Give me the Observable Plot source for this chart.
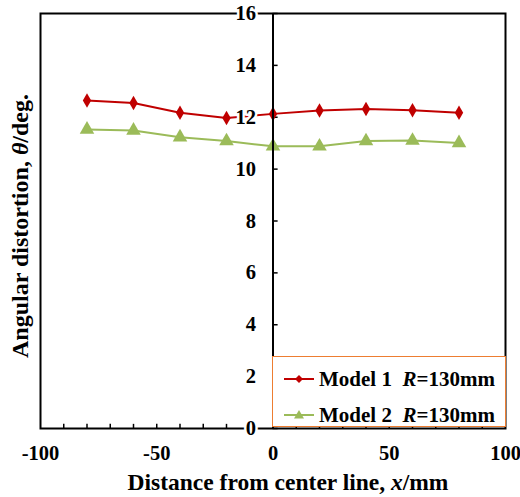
<!DOCTYPE html>
<html><head><meta charset="utf-8">
<script src="https://cdn.jsdelivr.net/npm/d3@7"></script>
<script src="https://cdn.jsdelivr.net/npm/@observablehq/plot@0.6"></script>
<style>
body{margin:0;background:#fff;}
#wrap{position:relative;width:520px;height:497px;font-family:"Liberation Serif","Times New Roman",serif;font-weight:bold;}
#wrap svg{display:block;}
#legend{position:absolute;left:272px;top:356px;width:234px;height:71px;box-sizing:border-box;border:1.5px solid #ED7D31;background:#fff;}
.lrow{position:absolute;left:11px;height:24px;display:flex;align-items:center;font-size:21px;white-space:pre;color:#000;}
.lrow svg{margin-right:5px;}
</style></head><body><div id="wrap"></div>
<script>
// ---- data ----
const xPositions = [-80, -60, -40, -20, 0, 20, 40, 60, 80];
const model1 = [12.65, 12.55, 12.17, 11.97, 12.13, 12.26, 12.32, 12.27, 12.17];
const model2 = [11.53, 11.49, 11.23, 11.08, 10.88, 10.88, 11.08, 11.10, 11.01];
const seriesNames = ["Model 1", "Model 2"];
const radiusLabel = "130mm";
const seriesColors = ["#C00000", "#9BBB59"];
const seriesSymbols = ["diamond", "triangle"];
const xTickLabels = [-100, -50, 0, 50, 100];
const xMinorTicks = [-90, -80, -70, -60, -50, -40, -30, -20, -10, 10, 20, 30, 40, 50, 60, 70, 80, 90];
const yTickLabels = [0, 2, 4, 6, 8, 10, 12, 14, 16];
const xTitle = "Distance from center line, x/mm";
const yTitle = "Angular distortion, θ/deg.";

const rows = [];
xPositions.forEach((x, i) => rows.push({series: seriesNames[0], x, y: model1[i]}));
xPositions.forEach((x, i) => rows.push({series: seriesNames[1], x, y: model2[i]}));

const font = {fontFamily: "Liberation Serif", fontWeight: "bold"};

const chart = Plot.plot({
  width: 520, height: 497,
  marginLeft: 40, marginRight: 15, marginTop: 13, marginBottom: 69,
  style: {fontFamily: "Liberation Serif", background: "#fff"},
  x: {domain: [-100, 100], axis: null},
  y: {domain: [0, 16], axis: null},
  marks: [
    Plot.ruleX(xMinorTicks, {x: d => d, y1: 0, y2: 0.16, stroke: "black", strokeWidth: 1.5}),
    Plot.ruleY(yTickLabels, {y: d => d, x1: 0, x2: 2.2, stroke: "black", strokeWidth: 1.5}),
    Plot.line(rows.filter(d => d.series === seriesNames[1]), {x: "x", y: "y", stroke: seriesColors[1], strokeWidth: 2}),
    Plot.dot(rows.filter(d => d.series === seriesNames[1]), {x: "x", y: "y", symbol: "triangle", r: 5.4, fill: seriesColors[1], stroke: null}),
    Plot.line(rows.filter(d => d.series === seriesNames[0]), {x: "x", y: "y", stroke: seriesColors[0], strokeWidth: 2}),
    Plot.dot(rows.filter(d => d.series === seriesNames[0]), {x: "x", y: "y", symbol: "diamond", r: 4.4, fill: seriesColors[0], stroke: null}),
    Plot.ruleX([0], {stroke: "black", strokeWidth: 2}),
    Plot.frame({stroke: "black", strokeWidth: 2}),
    Plot.text(yTickLabels, {x: 0, y: d => d, text: d => String(d), dx: -17, textAnchor: "end", lineAnchor: "middle",
      fontSize: 20.5, ...font, fill: "black", stroke: "white", strokeWidth: 5}),
    Plot.text(xTickLabels, {x: d => d, text: d => String(d), frameAnchor: "bottom", dy: 25, lineAnchor: "middle",
      fontSize: 20.5, ...font, fill: "black"}),
    Plot.text([xTitle], {frameAnchor: "bottom", textAnchor: "middle", dx: 15, dy: 54, lineAnchor: "middle", fontSize: 23.5, ...font, fill: "black"}),
    Plot.text([yTitle], {frameAnchor: "left", textAnchor: "middle", dx: -20, dy: 5, rotate: -90, lineAnchor: "middle", fontSize: 24, ...font, fill: "black"})
  ]
});

// italicize variable symbols in titles
function italicize(svg, full, italicPart) {
  d3.select(svg).selectAll("text").filter(function(){ return this.textContent === full; }).each(function(){
    const i = full.indexOf(italicPart);
    const parts = [[full.slice(0, i), false], [italicPart, true], [full.slice(i + italicPart.length), false]];
    this.textContent = "";
    const sel = d3.select(this);
    parts.forEach(([t, it]) => { const ts = sel.append("tspan").text(t); if (it) ts.attr("font-style", "italic"); });
  });
}
italicize(chart, xTitle, "x");
italicize(chart, yTitle, "θ");

const wrap = document.getElementById("wrap");
wrap.appendChild(chart);

// legend box overlay
const legend = document.createElement("div");
legend.id = "legend";
seriesNames.forEach((name, i) => {
  const row = document.createElement("div");
  row.className = "lrow";
  row.style.top = (i === 0 ? 10 : 46) + "px";
  const sym = seriesSymbols[i] === "diamond"
    ? `<path d="M15,2 L19,6 L15,10 L11,6 Z" fill="${seriesColors[i]}"/>`
    : `<path d="M15,1 L20,9.5 L10,9.5 Z" fill="${seriesColors[i]}"/>`;
  row.innerHTML = `<svg width="30" height="12"><line x1="0" x2="30" y1="6" y2="6" stroke="${seriesColors[i]}" stroke-width="2"/>${sym}</svg>${name}  <i>R</i>=${radiusLabel}`;
  legend.appendChild(row);
});
wrap.appendChild(legend);
</script>
</body></html>
